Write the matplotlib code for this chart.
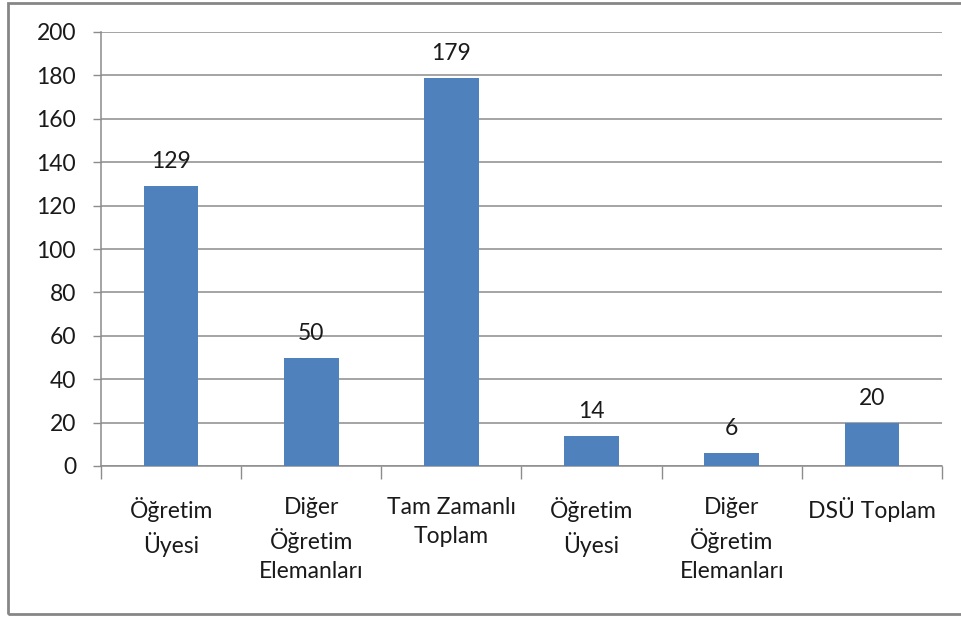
import matplotlib
matplotlib.use("Agg")
import matplotlib.pyplot as plt
from matplotlib.patches import Rectangle
import numpy as np

categories = ["Öğretim\nÜyesi", "Diğer\nÖğretim\nElemanları", "Tam Zamanlı\nToplam",
              "Öğretim\nÜyesi", "Diğer\nÖğretim\nElemanları", "DSÜ Toplam"]
values = [129, 50, 179, 14, 6, 20]
yticks = [0, 20, 40, 60, 80, 100, 120, 140, 160, 180, 200]

plt.rcParams['font.family'] = ['Lato', 'DejaVu Sans']
FS = 16.5

fig = plt.figure(figsize=(9.62, 6.18), dpi=100)
ax = fig.add_axes([101/962, 1-466/618, (942-101)/962, (466-32)/618])

x = np.arange(len(categories))
ax.bar(x, values, width=0.39, color="#4F81BD", zorder=3)
for xi, v in zip(x, values):
    ax.annotate(str(v), (xi, v), xytext=(0, 10), textcoords="offset points",
                ha="center", va="bottom", fontsize=FS, color="#1a1a1a")

ax.set_xlim(-0.5, len(categories) - 0.5)
ax.set_ylim(0, 200)
ax.set_yticks(yticks)
ax.set_yticklabels([str(t) for t in yticks], fontsize=FS, color="#1a1a1a")
ax.yaxis.grid(True, color="#8c8c8c", linewidth=1.1, zorder=0)
ax.set_axisbelow(True)

# category ticks at boundaries
ax.set_xticks(np.arange(-0.5, len(categories) + 0.5, 1.0))
ax.set_xticklabels([])
ax.tick_params(axis="x", length=9, width=1, color="#8c8c8c", direction="out")
ax.tick_params(axis="y", length=6, width=1, color="#8c8c8c", direction="out", pad=12)
ax.set_xticks(x, minor=True)
ax.set_xticklabels(categories, minor=True, fontsize=FS, color="#1a1a1a", linespacing=1.46)
ax.tick_params(axis="x", which="minor", length=0, pad=22.5)

for s in ["top", "right"]:
    ax.spines[s].set_visible(False)
for s in ["left", "bottom"]:
    ax.spines[s].set_color("#8c8c8c")
    ax.spines[s].set_linewidth(1.1)

# figure border (chart area frame)
fig.patches.append(Rectangle((8/962, 4/618), 1.0, 1 - 7/618, transform=fig.transFigure,
                             fill=False, edgecolor="#868686", linewidth=2.0))

fig.savefig("out.png", dpi=100)
